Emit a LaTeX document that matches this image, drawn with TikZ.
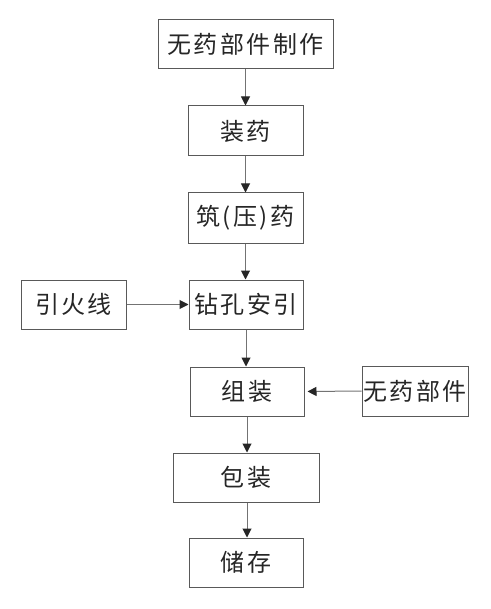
\documentclass[tikz,border=0pt]{standalone}
\usepackage{fontspec}
\newfontfamily\cjk[LetterSpace=10]{Noto Sans CJK SC}
\usetikzlibrary{arrows.meta}
\newcommand\bxx[5]{\node[boxst,minimum width=#3-#2,minimum height=#5-#4] (#1) at ({(#2+#3)/2},{(#4+#5)/2})}
\begin{document}
\begin{tikzpicture}[x=1pt,y=-1pt,
  boxst/.style={draw=black!65,line width=1pt,inner sep=0pt,font=\cjk\fontsize{24}{26}\selectfont,text=black!85},
  arr/.style={draw=black!55,line width=1pt,-{Triangle[length=9pt,width=9pt,color=black!85]}}]
\useasboundingbox (0,0) rectangle (490,609);
\bxx{a}{158}{333}{20}{69}{无药部件制作};
\bxx{b}{188}{303}{106}{156}{装药};
\bxx{c}{188}{303}{193}{243}{筑(压)药};
\bxx{d}{189}{303}{280}{329}{钻孔安引};
\bxx{e}{21}{126}{280}{329}{引火线};
\bxx{f}{190}{304}{367}{416}{组装};
\bxx{g}{362}{468}{366}{416}{无药部件};
\bxx{h}{173}{319}{453}{502}{包装};
\bxx{i}{189}{303}{538}{587}{储存};
\draw[arr] (a.south -| b) -- (b.north);
\draw[arr] (b) -- (c);
\draw[arr] (c.south) -- (c.south |- d.north);
\draw[arr] (e) -- (d);
\draw[arr] (d.south) -- (d.south |- f.north);
\draw[arr] (g.west) -- ([xshift=3pt]f.east);
\draw[arr] (f.south) -- (f.south |- h.north);
\draw[arr] (h.south -| f) -- (i.north -| f);
\end{tikzpicture}
\end{document}
